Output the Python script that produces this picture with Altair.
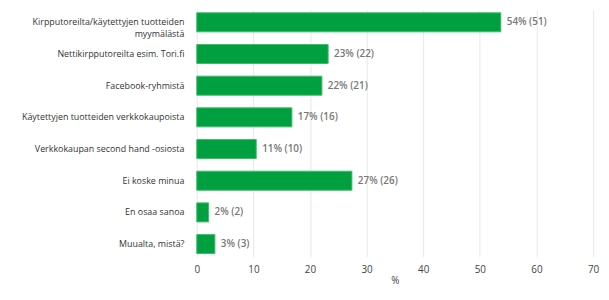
import altair as alt
import pandas as pd

categories = [
    "Kirpputoreilta/käytettyjen tuotteiden myymälästä",
    "Nettikirpputoreilta esim. Tori.fi",
    "Facebook-ryhmistä",
    "Käytettyjen tuotteiden verkkokaupoista",
    "Verkkokaupan second hand -osiosta",
    "Ei koske minua",
    "En osaa sanoa",
    "Muualta, mistä?",
]
percents = [53.7, 23.2, 22.1, 16.8, 10.5, 27.4, 2.1, 3.2]
pct_labels = [54, 23, 22, 17, 11, 27, 2, 3]
counts = [51, 22, 21, 16, 10, 26, 2, 3]
x_ticks = [0, 10, 20, 30, 40, 50, 60, 70]

df = pd.DataFrame({"cat": categories, "pct": percents, "n": counts})
df["label"] = [f"{p}% ({c})" for p, c in zip(pct_labels, counts)]

FONT = "Open Sans"

base = alt.Chart(df).encode(
    y=alt.Y(
        "cat:N",
        sort=categories,
        title=None,
        scale=alt.Scale(paddingInner=0.4, paddingOuter=0.1),
        axis=alt.Axis(
            domain=False,
            ticks=False,
            labelFont=FONT,
            labelFontSize=9,
            labelColor="#333333",
            labelPadding=13,
            labelLimit=250,
            labelLineHeight=12,
            labelExpr="length(datum.label) > 40 ? [substring(datum.label,0,37), substring(datum.label,38)] : datum.label",
        ),
    ),
    x=alt.X(
        "pct:Q",
        title="%",
        scale=alt.Scale(domain=[0, 70], nice=False),
        axis=alt.Axis(
            values=x_ticks,
            domain=False,
            ticks=False,
            grid=True,
            gridColor="#e8e8e8",
            gridWidth=1,
            labelFlush=False,
            labelFont=FONT,
            labelFontSize=10,
            labelColor="#444444",
            labelPadding=8,
            titleFont=FONT,
            titleFontSize=10,
            titleFontWeight="normal",
            titleColor="#444444",
            titlePadding=1,
        ),
    ),
)

bars = base.mark_bar(color="#00a040", stroke="#3dbb6a", strokeWidth=1)
texts = base.mark_text(
    align="left", baseline="middle", dx=6, font=FONT, fontSize=10,
    fontWeight=600, color="#777777"
).encode(text="label:N")

chart = (bars + texts).properties(
    width=401,
    height=250,
    autosize=alt.AutoSizeParams(type="none"),
    padding={"left": 191, "top": 0, "right": 8, "bottom": 34},
).configure_view(stroke=None)

chart.save("out.html", embed_options={"renderer": "svg", "actions": False})
